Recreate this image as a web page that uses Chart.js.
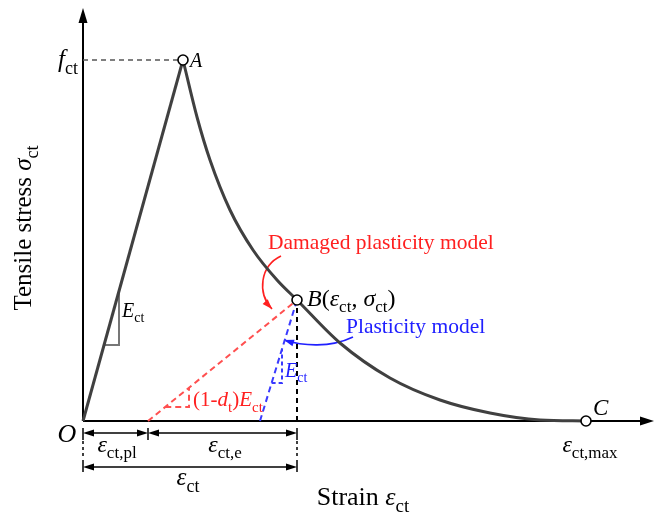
<!DOCTYPE html>
<html>
<head>
<meta charset="utf-8">
<script src="https://cdn.jsdelivr.net/npm/chart.js@4.4.1/dist/chart.umd.min.js"></script>
<style>
  html, body { margin: 0; padding: 0; background: #fff; }
  #wrap { width: 655px; height: 518px; }
</style>
</head>
<body>
<div id="wrap"><canvas id="grafico"></canvas></div>
<script>
// schematic units: strain on x, stress on y, origin O = (0, 0)
const peakStrain = 1.0;
const peakStress = 3.61;
const softStrain = [1.00, 1.14, 1.27, 1.47, 1.70, 1.94, 2.14, 2.57, 3.07, 3.57, 4.07, 4.57, 5.03];
const softStress = [3.61, 3.04, 2.61, 2.11, 1.71, 1.41, 1.21, 0.78, 0.43, 0.21, 0.08, 0.01, 0.00];
const pointB = [2.14, 1.21];
const maxStrain = 5.03;
const plStrainDamaged = 0.65;   // damaged plasticity unloading hits axis
const plStrainPlastic = 1.77;   // plasticity unloading (slope E_ct) hits axis
const axisEnd = [5.71, 4.13];

const SERIF = '"Liberation Serif", "Times New Roman", serif';
const RED = '#ff2020';
const BLUE = '#2020ff';

const pts = (xs, ys) => xs.map((x, i) => ({ x: x, y: ys[i] }));

// small slope triangles, built from the lines they sit on
function slopeTri(x0, slope, yLow, xRight) {
  const xa = x0 + yLow / slope;
  return [{ x: xa, y: yLow }, { x: xRight, y: yLow }, { x: xRight, y: (xRight - x0) * slope }];
}
const slopeE = peakStress / peakStrain;
const slopeDam = pointB[1] / (pointB[0] - plStrainDamaged);
const slopePl = pointB[1] / (pointB[0] - plStrainPlastic);

function arrowHead(ctx, x, y, ang, len, half) {
  ctx.beginPath();
  ctx.moveTo(x, y);
  ctx.lineTo(x - len * Math.cos(ang) - half * Math.sin(ang), y - len * Math.sin(ang) + half * Math.cos(ang));
  ctx.lineTo(x - len * Math.cos(ang) + half * Math.sin(ang), y - len * Math.sin(ang) - half * Math.cos(ang));
  ctx.closePath();
  ctx.fill();
}

function seg(ctx, x1, y1, x2, y2) {
  ctx.beginPath();
  ctx.moveTo(x1, y1);
  ctx.lineTo(x2, y2);
  ctx.stroke();
}

// texto com subscrito: partes [texto, tipo] tipo: i italico, r normal, s sub, si sub italico
function rich(ctx, parts, x, y, align, color, size) {
  const sub = Math.round(size * 0.72);
  const fonts = {
    i: 'italic ' + size + 'px ' + SERIF,
    r: size + 'px ' + SERIF,
    s: sub + 'px ' + SERIF,
    si: 'italic ' + sub + 'px ' + SERIF
  };
  let w = 0;
  parts.forEach(p => { ctx.font = fonts[p[1]]; w += ctx.measureText(p[0]).width; });
  let cx = align === 'center' ? x - w / 2 : align === 'right' ? x - w : x;
  ctx.fillStyle = color;
  ctx.textAlign = 'left';
  ctx.textBaseline = 'alphabetic';
  parts.forEach(p => {
    ctx.font = fonts[p[1]];
    const dy = p[1][0] === 's' ? size * 0.27 : 0;
    ctx.fillText(p[0], cx, y + dy);
    cx += ctx.measureText(p[0]).width;
  });
}

const decor = {
  id: 'decor',
  beforeDatasetsDraw(chart) {
    const ctx = chart.ctx;
    const px = v => chart.scales.x.getPixelForValue(v);
    const py = v => chart.scales.y.getPixelForValue(v);
    ctx.save();
    ctx.strokeStyle = '#000';
    ctx.fillStyle = '#000';
    ctx.lineWidth = 2;
    // eixos
    seg(ctx, px(0), py(0), px(axisEnd[0]) - 10, py(0));
    arrowHead(ctx, px(axisEnd[0]), py(0), 0, 14, 4.5);
    seg(ctx, px(0), py(0), px(0), py(axisEnd[1]) + 10);
    arrowHead(ctx, px(0), py(axisEnd[1]), -Math.PI / 2, 15, 4.5);

    // cotas
    ctx.lineWidth = 1.5;
    const r1 = -0.12, r2 = -0.46;
    [0, plStrainDamaged, pointB[0]].forEach(v => seg(ctx, px(v), py(-0.07), px(v), py(-0.19)));
    [0, pointB[0]].forEach(v => seg(ctx, px(v), py(-0.39), px(v), py(-0.51)));
    const dim = (a, b, r) => {
      seg(ctx, px(a) + 6, py(r), px(b) - 6, py(r));
      arrowHead(ctx, px(a), py(r), Math.PI, 11, 3.5);
      arrowHead(ctx, px(b), py(r), 0, 11, 3.5);
    };
    dim(0, plStrainDamaged, r1);
    dim(plStrainDamaged, pointB[0], r1);
    dim(0, pointB[0], r2);
    ctx.setLineDash([3, 3]);
    seg(ctx, px(0), py(-0.2), px(0), py(-0.38));
    seg(ctx, px(pointB[0]), py(-0.2), px(pointB[0]), py(-0.38));
    ctx.setLineDash([]);

    // setas curvas
    const curva = (p, color) => {
      ctx.strokeStyle = color;
      ctx.fillStyle = color;
      ctx.lineWidth = 1.6;
      ctx.beginPath();
      ctx.moveTo(px(p[0][0]), py(p[0][1]));
      ctx.bezierCurveTo(px(p[1][0]), py(p[1][1]), px(p[2][0]), py(p[2][1]), px(p[3][0]), py(p[3][1]));
      ctx.stroke();
      const ang = Math.atan2(py(p[3][1]) - py(p[2][1]), px(p[3][0]) - px(p[2][0]));
      arrowHead(ctx, px(p[3][0]), py(p[3][1]), ang, 10, 3.5);
    };
    curva([[1.98, 1.65], [1.77, 1.55], [1.74, 1.28], [1.89, 1.12]], RED);
    curva([[2.70, 0.84], [2.47, 0.73], [2.20, 0.75], [2.01, 0.81]], BLUE);
    ctx.restore();
  },
  afterDatasetsDraw(chart) {
    const ctx = chart.ctx;
    const px = v => chart.scales.x.getPixelForValue(v);
    const py = v => chart.scales.y.getPixelForValue(v);
    ctx.save();
    rich(ctx, [['f', 'i'], ['ct', 's']], px(-0.05), py(3.54), 'right', '#000', 25);
    rich(ctx, [['A', 'i']], px(1.07), py(3.54), 'left', '#000', 20);
    rich(ctx, [['B', 'i'], ['(', 'r'], ['ε', 'i'], ['ct', 's'], [', ', 'r'], ['σ', 'i'], ['ct', 's'], [')', 'r']], px(2.24), py(1.15), 'left', '#000', 24);
    rich(ctx, [['C', 'i']], px(5.10), py(0.06), 'left', '#000', 23);
    rich(ctx, [['O', 'i']], px(-0.16), py(-0.21), 'center', '#000', 26);
    rich(ctx, [['ε', 'i'], ['ct,max', 's']], px(5.07), py(-0.31), 'center', '#000', 24);
    rich(ctx, [['ε', 'i'], ['ct,pl', 's']], px(0.34), py(-0.31), 'center', '#000', 24);
    rich(ctx, [['ε', 'i'], ['ct,e', 's']], px(1.42), py(-0.31), 'center', '#000', 24);
    rich(ctx, [['ε', 'i'], ['ct', 's']], px(1.05), py(-0.64), 'center', '#000', 25);
    rich(ctx, [['Strain ', 'r'], ['ε', 'i'], ['ct', 's']], px(2.80), py(-0.84), 'center', '#000', 26);
    rich(ctx, [['E', 'i'], ['ct', 's']], px(0.39), py(1.04), 'left', '#000', 20);
    rich(ctx, [['(1-', 'r'], ['d', 'i'], ['t', 's'], [')', 'r'], ['E', 'i'], ['ct', 's']], px(1.10), py(0.15), 'left', RED, 21);
    rich(ctx, [['E', 'i'], ['ct', 's']], px(2.02), py(0.44), 'left', BLUE, 20);
    rich(ctx, [['Damaged plasticity model', 'r']], px(1.85), py(1.72), 'left', RED, 21.5);
    rich(ctx, [['Plasticity model', 'r']], px(2.63), py(0.88), 'left', BLUE, 21.5);
    // rotulo do eixo y
    ctx.translate(px(-0.52), py(1.93));
    ctx.rotate(-Math.PI / 2);
    rich(ctx, [['Tensile stress ', 'r'], ['σ', 'i'], ['ct', 's']], 0, 0, 'center', '#000', 25);
    ctx.restore();
  }
};

const dashed = (data, color, w, dash) => ({
  data: data, showLine: true, borderColor: color, borderWidth: w, borderDash: dash,
  pointRadius: 0, tension: 0, fill: false
});

new Chart(document.getElementById('grafico'), {
  type: 'scatter',
  data: {
    datasets: [
      {
        data: [{ x: peakStrain, y: peakStress }, { x: pointB[0], y: pointB[1] }, { x: maxStrain, y: 0 }],
        pointRadius: 5, pointBackgroundColor: '#fff', pointBorderColor: '#000', pointBorderWidth: 1.6,
        showLine: false
      },
      {
        data: pts(softStrain, softStress), showLine: true, borderColor: '#404040', borderWidth: 3,
        pointRadius: 0, cubicInterpolationMode: 'monotone'
      },
      dashed([{ x: 0, y: 0 }, { x: peakStrain, y: peakStress }], '#404040', 3, []),
      dashed(slopeTri(0, slopeE, 0.76, 0.36), '#777', 2, []),
      dashed([{ x: 0, y: peakStress }, { x: peakStrain, y: peakStress }], '#555', 1.5, [5, 4]),
      dashed([{ x: plStrainDamaged, y: 0 }, { x: pointB[0], y: pointB[1] }], '#ff5050', 2, [6, 4]),
      dashed(slopeTri(plStrainDamaged, slopeDam, 0.14, 1.06), '#ff5050', 2, [6, 4]),
      dashed([{ x: plStrainPlastic, y: 0 }, { x: pointB[0], y: pointB[1] }], '#3a3aff', 2, [6, 4]),
      dashed(slopeTri(plStrainPlastic, slopePl, 0.38, 1.99), '#3a3aff', 2, [4, 3]),
      dashed([{ x: pointB[0], y: 0 }, { x: pointB[0], y: pointB[1] }], '#000', 2, [5, 4])
    ]
  },
  options: {
    responsive: true,
    maintainAspectRatio: false,
    animation: false,
    layout: { padding: 0, autoPadding: false },
    plugins: { legend: { display: false }, tooltip: { enabled: false } },
    clip: false,
    scales: {
      x: { type: 'linear', display: false, min: -0.83, max: 5.72 },
      y: { type: 'linear', display: false, min: -0.97, max: 4.21 }
    }
  },
  plugins: [decor]
});
</script>
</body>
</html>
